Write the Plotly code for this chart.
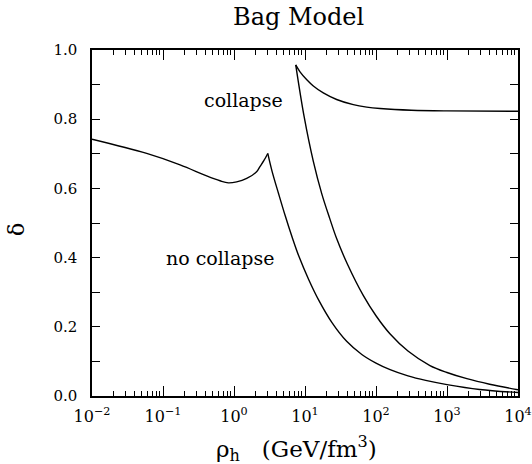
import plotly.graph_objects as go

# "no collapse" boundary: left part (up to the cusp) and right part (after the cusp)
rho_nc_left = [0.01, 0.0589, 0.174, 0.412, 0.635, 0.832, 1.09, 1.51, 2.08, 2.32, 2.63, 2.99]
delta_nc_left = [0.742, 0.701, 0.668, 0.636, 0.622, 0.616, 0.619, 0.629, 0.648, 0.663, 0.680, 0.701]
rho_nc_right = [2.99, 3.43, 4.27, 5.28, 6.56, 8.15, 11.3, 15.6, 24.0, 38.6, 63.1, 100, 158, 282,
                501, 1000, 2880, 10000]
delta_nc_right = [0.701, 0.650, 0.583, 0.520, 0.460, 0.405, 0.336, 0.277, 0.212, 0.158, 0.120, 0.095,
                  0.076, 0.058, 0.045, 0.033, 0.019, 0.010]

# "collapse" boundary: upper and lower branches meeting at the cusp
rho_c_upper = [7.40, 8.51, 10.6, 13.1, 18.1, 27.9, 47.9, 74.0, 114, 316, 1000, 10000]
delta_c_upper = [0.957, 0.937, 0.914, 0.896, 0.876, 0.857, 0.842, 0.835, 0.831, 0.826, 0.824, 0.823]
rho_c_lower = [7.40, 9.77, 13.1, 17.2, 22.4, 27.9, 39.8, 66.4, 100, 157, 282, 575, 1000, 1905,
               3980, 10000]
delta_c_lower = [0.957, 0.805, 0.678, 0.585, 0.512, 0.455, 0.380, 0.290, 0.232, 0.180, 0.130, 0.088,
                 0.068, 0.050, 0.034, 0.018]

x_tickvals = [0.01, 0.1, 1, 10, 100, 1000, 10000]
x_ticktext = ["10<sup>\u22122</sup>", "10<sup>\u22121</sup>", "10<sup>0</sup>", "10<sup>1</sup>",
              "10<sup>2</sup>", "10<sup>3</sup>", "10<sup>4</sup>"]
y_tickvals = [0.0, 0.2, 0.4, 0.6, 0.8, 1.0]
y_ticktext = ["0.0", "0.2", "0.4", "0.6", "0.8", "1.0"]

FONT = "DejaVu Serif"

fig = go.Figure()
for xs, ys in [(rho_nc_left, delta_nc_left), (rho_nc_right, delta_nc_right),
               (rho_c_upper, delta_c_upper), (rho_c_lower, delta_c_lower)]:
    fig.add_trace(go.Scatter(x=xs, y=ys, mode="lines",
                             line=dict(color="black", width=1.4, shape="spline", smoothing=1.0),
                             showlegend=False, hoverinfo="skip"))

fig.update_layout(
    width=532, height=464,
    margin=dict(l=92, r=14, t=50, b=68),
    plot_bgcolor="white", paper_bgcolor="white",
    font=dict(family=FONT, color="black", size=15),
    showlegend=False,
)

fig.update_xaxes(
    type="log", range=[-2, 4], automargin=False,
    showline=True, linecolor="black", linewidth=1.5, mirror="ticks",
    ticks="inside", ticklen=10, tickwidth=1, tickcolor="black",
    tickvals=x_tickvals, ticktext=x_ticktext,
    tickfont=dict(family=FONT, size=16),
    ticklabelstandoff=5,
    minor=dict(ticks="inside", ticklen=5, tickwidth=1, tickcolor="black", dtick="D1", showgrid=False),
    showgrid=False, zeroline=False,
)
fig.update_yaxes(
    range=[0, 1.0], automargin=False,
    showline=True, linecolor="black", linewidth=1.5, mirror="ticks",
    ticks="inside", ticklen=8, tickwidth=1, tickcolor="black",
    tickvals=y_tickvals, ticktext=y_ticktext,
    tickfont=dict(family=FONT, size=15),
    minor=dict(ticks="inside", ticklen=8, tickwidth=1, tickcolor="black", dtick=0.1, showgrid=False),
    ticklabelstandoff=10,
    showgrid=False, zeroline=False,
)

fig.add_annotation(text="Bag Model", xref="paper", yref="paper", x=0.484, y=1.0,
                   yshift=33, showarrow=False, font=dict(family=FONT, size=24),
                   xanchor="center", yanchor="middle")
fig.add_annotation(text="\u03c1<sub>h</sub>   (GeV/fm<sup>3</sup>)", xref="paper", yref="paper",
                   x=0.481, y=0.0, yshift=-52, showarrow=False, font=dict(family=FONT, size=23),
                   xanchor="center", yanchor="middle")
fig.add_annotation(text="\u03b4", xref="paper", yref="paper", x=-0.176, y=0.48,
                   textangle=-90, showarrow=False, font=dict(family=FONT, size=22),
                   xanchor="center", yanchor="middle")
fig.add_annotation(text="collapse", x=0.127, y=0.855, showarrow=False,
                   font=dict(family=FONT, size=19), xanchor="center", yanchor="middle")
fig.add_annotation(text="no collapse", x=-0.197, y=0.399, showarrow=False,
                   font=dict(family=FONT, size=19), xanchor="center", yanchor="middle")

fig.write_html("out.html", config={"displayModeBar": False},
               post_script="document.body.style.margin='0';")
